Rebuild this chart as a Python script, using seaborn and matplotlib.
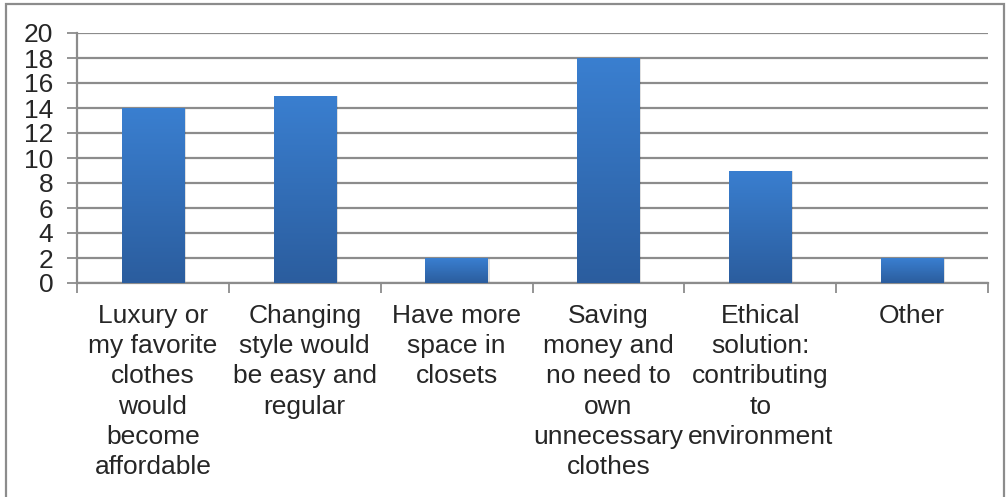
import numpy as np
import pandas as pd
import seaborn as sns
import matplotlib.pyplot as plt
from matplotlib.colors import LinearSegmentedColormap
from matplotlib.patches import Rectangle

categories = [
    "Luxury or\nmy favorite\nclothes\nwould\nbecome\naffordable",
    "Changing\nstyle would\nbe easy and\nregular",
    "Have more\nspace in\nclosets",
    "Saving\nmoney and\nno need to\nown\nunnecessary\nclothes",
    "Ethical\nsolution:\ncontributing\nto\nenvironment",
    "Other",
]
counts = [14, 15, 2, 18, 9, 2]
y_ticks = list(range(0, 21, 2))

df = pd.DataFrame({"reason": categories, "count": counts})

sns.set_theme(style="white")
plt.rcParams["font.family"] = ["Liberation Sans", "DejaVu Sans"]

fig = plt.figure(figsize=(10.08, 4.97), dpi=100)
ax = fig.add_axes([77 / 1008, 1 - 283 / 497, (988 - 77) / 1008, (283 - 33) / 497])

sns.barplot(data=df, x="reason", y="count", ax=ax, color="#3574c4",
            width=0.41, saturation=1, zorder=3)

# vertical gradient fill on each bar, with a soft drop shadow
grad = LinearSegmentedColormap.from_list("bar", ["#2b5d9e", "#3a7fd0"])
img = np.linspace(0, 1, 256).reshape(-1, 1)
for p in ax.patches:
    x0, y0 = p.get_x(), p.get_y()
    w, h = p.get_width(), p.get_height()
    shadow = Rectangle((x0 + 0.012, y0 - 0.06), w, h, facecolor="#000000",
                       alpha=0.12, edgecolor="none", zorder=2.5)
    ax.add_patch(shadow)
    im = ax.imshow(img, cmap=grad, aspect="auto", origin="lower",
                   extent=[x0, x0 + w, y0, y0 + h], zorder=3)
    im.set_clip_path(p)
    p.set_facecolor("none")
    p.set_edgecolor("none")

ax.set_xlim(-0.5, len(categories) - 0.5)
ax.set_ylim(0, 20)
ax.set_yticks(y_ticks)
ax.set_yticklabels([str(t) for t in y_ticks])
ax.yaxis.grid(True, color="#8c8c8c", linewidth=1.6, zorder=0)
ax.set_axisbelow(True)

ax.set_xticks(np.arange(-0.5, len(categories), 1.0), minor=False)
ax.set_xticklabels([])
ax.set_xticks(np.arange(len(categories)), minor=True)
ax.set_xticklabels(categories, minor=True, fontsize=19, linespacing=1.33,
                   va="top", ha="center")
ax.tick_params(axis="x", which="major", length=7, width=1.3, color="#8c8c8c",
               direction="out", bottom=True)
ax.tick_params(axis="x", which="minor", length=0, pad=15)
ax.tick_params(axis="y", length=7, width=1.3, color="#8c8c8c", direction="out",
               left=True, labelsize=19, pad=10)
ax.set_xlabel("")
ax.set_ylabel("")

for side in ["top", "right"]:
    ax.spines[side].set_visible(False)
for side in ["left", "bottom"]:
    ax.spines[side].set_color("#8c8c8c")
    ax.spines[side].set_linewidth(1.6)

# outer chart frame
fig.patches.append(Rectangle((6 / 1008, -0.01), (1004 - 6) / 1008, 1 - 4 / 497 + 0.01,
                             transform=fig.transFigure, fill=False,
                             edgecolor="#8c8c8c", linewidth=1.6))

fig.savefig("out.png", dpi=100)
